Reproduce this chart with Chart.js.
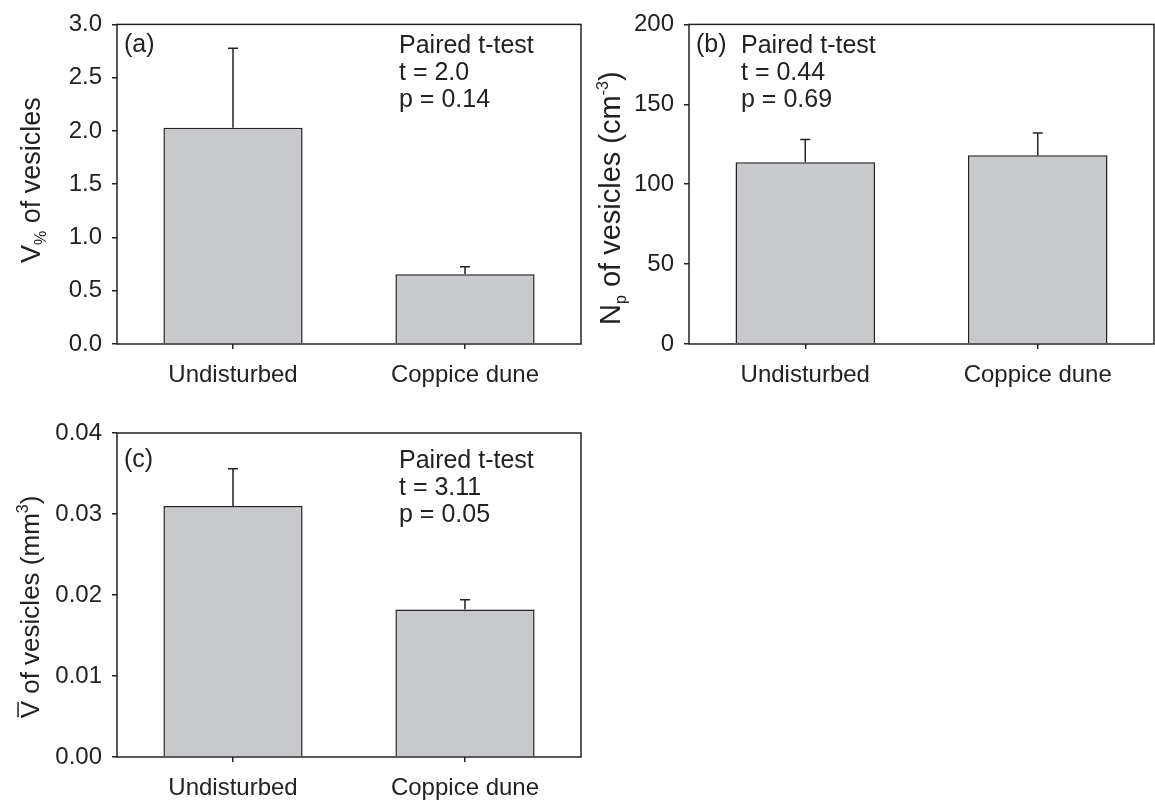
<!DOCTYPE html>
<html>
<head>
<meta charset="utf-8">
<script src="https://cdn.jsdelivr.net/npm/chart.js@4.4.1/dist/chart.umd.min.js"></script>
<style>
  body { margin: 0; background: #fff; }
  #wrap { position: relative; width: 1155px; height: 804px; overflow: hidden; }
  canvas { position: absolute; }
</style>
</head>
<body>
<div id="wrap">
  <canvas id="chartA" width="590" height="400" style="left:0;top:0"></canvas>
  <canvas id="chartB" width="575" height="400" style="left:580px;top:0"></canvas>
  <canvas id="chartC" width="590" height="404" style="left:0;top:400px"></canvas>
</div>
<script>
// --- Data ---
const categories = ['Undisturbed', 'Coppice dune'];

const volPercent = [2.03, 0.655];       // V% of vesicles
const volPercentSE = [0.745, 0.07];
const numDensity = [113.8, 118.1];      // Np of vesicles (cm-3)
const numDensitySE = [14.2, 13.9];
const meanVolume = [0.0310, 0.0182];    // mean vesicle volume (mm3)
const meanVolumeSE = [0.0046, 0.0012];

const statsA = ['Paired t-test', 't = 2.0', 'p = 0.14'];
const statsB = ['Paired t-test', 't = 0.44', 'p = 0.69'];
const statsC = ['Paired t-test', 't = 3.11', 'p = 0.05'];

// --- Styling ---
const FONT = '"Liberation Sans", Arial, Helvetica, sans-serif';
const INK = '#222';
const BAR_FILL = '#c8c9cc';
const TICK_SIZE = 24;
const NOTE_SIZE = 25;
const SCRIPT_SIZE = 16;

Chart.defaults.font.family = FONT;
Chart.defaults.color = INK;

// box around the plot area
const frame = {
    id: 'frame',
    afterDatasetsDraw(chart) {
        const { ctx, chartArea: a } = chart;
        ctx.save();
        ctx.strokeStyle = INK;
        ctx.lineWidth = 1.5;
        ctx.strokeRect(a.left, a.top, a.right - a.left, a.bottom - a.top);
        ctx.restore();
    }
};

// rotated y title built from pieces (sub/superscripts, overline);
// cx is the middle of the capital letters
function drawRichVertical(ctx, parts, cx, cy, mainSize) {
    const widths = parts.map(p => {
        ctx.font = p.size + 'px ' + FONT;
        return ctx.measureText(p.text).width;
    });
    const total = widths.reduce((a, b) => a + b, 0);
    const base = mainSize * 0.36;
    ctx.save();
    ctx.translate(cx, cy);
    ctx.rotate(-Math.PI / 2);
    ctx.fillStyle = INK;
    ctx.textAlign = 'left';
    ctx.textBaseline = 'alphabetic';
    let x = -total / 2;
    parts.forEach((p, i) => {
        ctx.font = p.size + 'px ' + FONT;
        ctx.fillText(p.text, x, base + (p.shift || 0));
        if (p.overline) {
            ctx.strokeStyle = INK;
            ctx.lineWidth = 1.5;
            ctx.beginPath();
            ctx.moveTo(x + 1, base - p.size * 0.82);
            ctx.lineTo(x + widths[i] - 1, base - p.size * 0.82);
            ctx.stroke();
        }
        x += widths[i];
    });
    ctx.restore();
}

function makePanel(id, cfg) {
    // error bars (upper side) and text for this panel
    const extras = {
        id: 'extras',
        afterDatasetsDraw(chart) {
            const ctx = chart.ctx;
            const y = chart.scales.y;
            const meta = chart.getDatasetMeta(0);
            ctx.save();
            ctx.strokeStyle = INK;
            ctx.lineWidth = 1.5;
            meta.data.forEach((bar, i) => {
                const top = y.getPixelForValue(cfg.means[i] + cfg.errors[i]);
                ctx.beginPath();
                ctx.moveTo(bar.x, bar.y);
                ctx.lineTo(bar.x, top);
                ctx.moveTo(bar.x - 5, top);
                ctx.lineTo(bar.x + 5, top);
                ctx.stroke();
            });
            ctx.restore();
        },
        afterDraw(chart) {
            const ctx = chart.ctx;
            const a = chart.chartArea;
            drawRichVertical(ctx, cfg.title, cfg.titleX, (a.top + a.bottom) / 2 + cfg.titleDy, cfg.titleSize);
            ctx.save();
            ctx.fillStyle = INK;
            ctx.textBaseline = 'middle';
            ctx.textAlign = 'left';
            ctx.font = NOTE_SIZE + 'px ' + FONT;
            ctx.fillText(cfg.tag, cfg.tagX, cfg.tagY);
            cfg.notes.forEach((line, i) => {
                ctx.fillText(line, cfg.notesX, cfg.notesY + i * 27);
            });
            ctx.restore();
        }
    };

    new Chart(document.getElementById(id), {
        type: 'bar',
        data: {
            labels: categories,
            datasets: [{
                data: cfg.means,
                backgroundColor: BAR_FILL,
                borderColor: INK,
                borderWidth: 1.5,
                barPercentage: 0.6,
                categoryPercentage: 1.0
            }]
        },
        options: {
            responsive: false,
            animation: false,
            events: [],
            layout: { padding: { top: cfg.padTop, right: cfg.padRight, left: 0, bottom: 0 } },
            scales: {
                x: {
                    offset: true,
                    border: { display: false },
                    grid: { offset: false, drawOnChartArea: false, drawTicks: true, tickLength: 5, color: INK, lineWidth: 1.5 },
                    ticks: { font: { size: TICK_SIZE }, padding: 12, color: INK, maxRotation: 0 },
                    afterFit(scale) { scale.height = cfg.xHeight; }
                },
                y: {
                    min: cfg.min,
                    max: cfg.max,
                    border: { display: false },
                    grid: { drawOnChartArea: false, drawTicks: true, tickLength: 5, color: INK, lineWidth: 1.5 },
                    ticks: {
                        stepSize: cfg.step,
                        font: { size: TICK_SIZE },
                        padding: 10,
                        color: INK,
                        callback: v => v.toFixed(cfg.decimals)
                    },
                    afterFit(scale) { scale.width = cfg.yWidth; }
                }
            },
            plugins: {
                legend: { display: false },
                tooltip: { enabled: false }
            }
        },
        plugins: [frame, extras]
    });
}

makePanel('chartA', {
    means: volPercent, errors: volPercentSE,
    min: 0, max: 3, step: 0.5, decimals: 1,
    padTop: 20, padRight: 9, xHeight: 56, yWidth: 117,
    titleSize: 27,
    title: [
        { text: 'V', size: 27 },
        { text: '%', size: SCRIPT_SIZE, shift: 6 },
        { text: ' of vesicles', size: 27 }
    ],
    titleX: 30, titleDy: -4,
    tag: '(a)', tagX: 124, tagY: 45,
    notes: statsA, notesX: 399, notesY: 46
});

makePanel('chartB', {
    means: numDensity, errors: numDensitySE,
    min: 0, max: 200, step: 50, decimals: 0,
    padTop: 20, padRight: 1, xHeight: 56, yWidth: 109,
    titleSize: 29,
    title: [
        { text: 'N', size: 29 },
        { text: 'p', size: SCRIPT_SIZE, shift: 6 },
        { text: ' of vesicles (cm', size: 29 },
        { text: '-3', size: SCRIPT_SIZE, shift: -12 },
        { text: ')', size: 29 }
    ],
    titleX: 30, titleDy: 14,
    tag: '(b)', tagX: 116, tagY: 45,
    notes: statsB, notesX: 161, notesY: 46
});

makePanel('chartC', {
    means: meanVolume, errors: meanVolumeSE,
    min: 0, max: 0.04, step: 0.01, decimals: 2,
    padTop: 33, padRight: 9, xHeight: 47, yWidth: 117,
    titleSize: 26,
    title: [
        { text: 'V', size: 26, overline: true },
        { text: ' of vesicles (mm', size: 26 },
        { text: '3', size: SCRIPT_SIZE, shift: -11 },
        { text: ')', size: 26 }
    ],
    titleX: 30, titleDy: 12,
    tag: '(c)', tagX: 124, tagY: 60,
    notes: statsC, notesX: 399, notesY: 61
});
</script>
</body>
</html>
